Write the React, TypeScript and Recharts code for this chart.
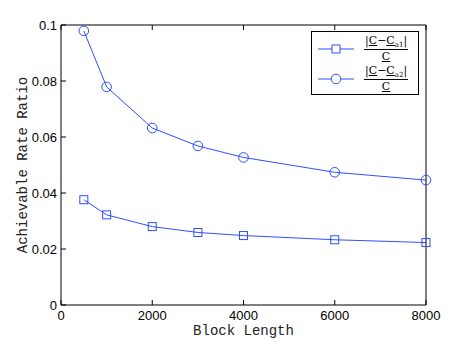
import { LineChart, Line, XAxis, YAxis, Label } from "recharts"

const blockLengths = [500, 1000, 2000, 3000, 4000, 6000, 8000]
const ratioA1 = [0.0376, 0.0322, 0.028, 0.0259, 0.0248, 0.0233, 0.0223]
const ratioA2 = [0.0979, 0.0779, 0.0632, 0.0568, 0.0527, 0.0474, 0.0446]
const xTicks = [0, 2000, 4000, 6000, 8000]
const yTicks = [0, 0.02, 0.04, 0.06, 0.08, 0.1]

const blue = "#2f4fff"

const data = blockLengths.map((x, i) => ({ x, a1: ratioA1[i], a2: ratioA2[i] }))

const SquareDot = (props: any) => {
  const { cx, cy } = props
  if (cx == null || cy == null) return null
  return <rect x={cx - 4} y={cy - 4} width={8} height={8} fill="none" stroke={blue} strokeWidth={1} />
}

const CircleDot = (props: any) => {
  const { cx, cy } = props
  if (cx == null || cy == null) return null
  return <circle cx={cx} cy={cy} r={4.8} fill="none" stroke={blue} strokeWidth={1} />
}

const u = { textDecoration: "underline" }

function Frac({ sub }: { sub: string }) {
  return (
    <div style={{ display: "inline-flex", flexDirection: "column", alignItems: "center", fontFamily: "'DejaVu Serif', serif", fontSize: 11, lineHeight: "12px" }}>
      <div style={{ borderBottom: "1px solid #000", padding: "0 1px 1px", whiteSpace: "nowrap" }}>
        |<span style={u}>C</span>−<span style={u}>C</span>
        <span style={{ fontSize: 7, position: "relative", top: 3 }}>{sub}</span>|
      </div>
      <div style={{ paddingTop: 1 }}>
        <span style={u}>C</span>
      </div>
    </div>
  )
}

function LegendBox() {
  const rows = [
    { sub: "a1", square: true },
    { sub: "a2", square: false },
  ]
  return (
    <div style={{ position: "absolute", left: 311, top: 31, border: "1px solid #000", background: "#fff", width: 108, height: 64, boxSizing: "border-box", padding: "2px 0 0 6px" }}>
      {rows.map((r) => (
        <div key={r.sub} style={{ display: "flex", alignItems: "center", height: 30 }}>
          <svg width={36} height={14} style={{ marginRight: 10 }}>
            <line x1={0} y1={7} x2={36} y2={7} stroke={blue} strokeWidth={1} />
            {r.square ? (
              <rect x={14} y={3} width={8} height={8} fill="#fff" stroke={blue} />
            ) : (
              <circle cx={18} cy={7} r={4.8} fill="#fff" stroke={blue} />
            )}
          </svg>
          <Frac sub={r.sub} />
        </div>
      ))}
    </div>
  )
}

const tickFont = { fill: "#000", fontSize: 13, fontFamily: "'Liberation Sans', Arial, sans-serif" }
const labelFont = { fill: "#222", fontSize: 14, fontFamily: "'Liberation Mono', monospace" }

export default function App() {
  return (
    <div style={{ margin: "-8px 0 0 -8px", background: "#fff", width: 471, height: 344, position: "relative" }}>
      <LineChart width={471} height={344} data={data} margin={{ top: 24, right: 44, left: 21, bottom: 9 }}>
        <XAxis dataKey="x" type="number" domain={[0, 8000]} ticks={xTicks} height={30} tickSize={-5} tickMargin={11} stroke="#000" tick={tickFont}>
          <Label value="Block Length" position="insideBottom" offset={0} style={labelFont} />
        </XAxis>
        <XAxis xAxisId="top" orientation="top" dataKey="x" type="number" domain={[0, 8000]} ticks={xTicks} height={1} tickSize={-5} stroke="#000" tick={{ fill: "none" }} />
        <YAxis type="number" domain={[0, 0.1]} ticks={yTicks} width={40} tickSize={-5} tickMargin={9} stroke="#000" tick={tickFont}>
          <Label value="Achievable Rate Ratio" angle={-90} position="insideLeft" offset={1} textAnchor="middle" style={labelFont} />
        </YAxis>
        <YAxis yAxisId="right" orientation="right" type="number" domain={[0, 0.1]} ticks={yTicks} width={1} tickSize={-5} stroke="#000" tick={{ fill: "none" }} />
        <Line type="linear" dataKey="a1" stroke={blue} strokeWidth={1} dot={<SquareDot />} isAnimationActive={false} />
        <Line type="linear" dataKey="a2" stroke={blue} strokeWidth={1} dot={<CircleDot />} isAnimationActive={false} />
      </LineChart>
      <LegendBox />
    </div>
  )
}
